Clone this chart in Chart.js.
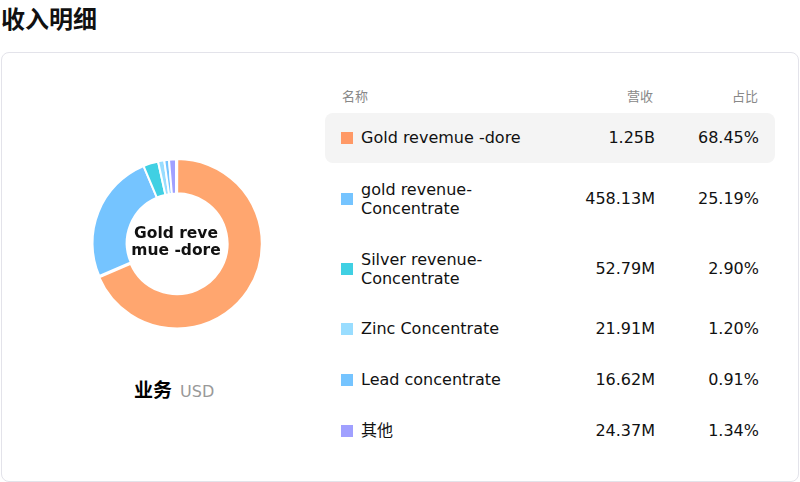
<!DOCTYPE html>
<html><head><meta charset="utf-8">
<script src="https://cdn.jsdelivr.net/npm/chart.js@4"></script>
<style>
body{margin:0;width:800px;height:482px;background:#fff;font-family:"DejaVu Sans","Noto Sans CJK SC",sans-serif;position:relative;overflow:hidden}
#title{position:absolute;left:1px;top:0px;font-size:24px;font-weight:bold;color:#111;font-family:"Noto Sans CJK SC",sans-serif}
#card{position:absolute;left:1px;top:52px;width:796px;height:428px;border:1px solid #e3e3ea;border-radius:8px}
#cw{position:absolute;left:76px;top:143px;width:200px;height:200px}
#center{position:absolute;left:116px;top:225px;width:120px;text-align:center;font-weight:bold;font-size:15.5px;line-height:17px;color:#111}
#unit{position:absolute;left:134px;top:375px;font-size:19px;font-weight:bold;font-family:"Noto Sans CJK SC",sans-serif}
#unit span{font-weight:normal;font-size:16px;color:#999;font-family:"DejaVu Sans";margin-left:8px}
.hdr{position:absolute;top:86px;font-size:13px;color:#888;font-family:"Noto Sans CJK SC",sans-serif}
.row{position:absolute;left:325px;width:450px;height:50px}
.row.hl{background:#f4f4f4;border-radius:8px}
.sw{position:absolute;left:16px;top:19px;width:12px;height:12px}
.nm{position:absolute;left:36px;font-size:16px;line-height:19px;color:#111;font-family:"DejaVu Sans","Noto Sans CJK SC"}
.v{position:absolute;right:120px;top:15px;font-size:16px;color:#111;font-family:"DejaVu Sans"}
.p{position:absolute;right:16px;top:15px;font-size:16px;color:#111;font-family:"DejaVu Sans"}
</style></head><body>
<div id="title">收入明细</div>
<div id="card"></div>
<div id="cw"><canvas id="c" width="200" height="200"></canvas></div>
<div id="center">Gold reve<br>mue -dore</div>
<div id="unit">业务<span>USD</span></div>
<div class="hdr" style="left:342px">名称</div>
<div class="hdr" style="left:627px">营收</div>
<div class="hdr" style="left:732px">占比</div>
<div id="rows"></div>
<script>
const categories=["Gold revemue -dore","gold revenue-\nConcentrate","Silver revenue-\nConcentrate","Zinc Concentrate","Lead concentrate","其他"];
const values=[1250,458.13,52.79,21.91,16.62,24.37];
const valueLabels=["1.25B","458.13M","52.79M","21.91M","16.62M","24.37M"];
const percents=["68.45%","25.19%","2.90%","1.20%","0.91%","1.34%"];
const colors=["#FFA66F","#75C4FF","#40D0E3","#99DDFF","#75C4FF","#A0A0FF"];
const swatch=["#FF9966","#75C4FF","#40D0E3","#99DDFF","#75C4FF","#A0A0FF"];
const tops=[113,174,244,304,355,406];
const rows=document.getElementById('rows');
categories.forEach((c,i)=>{
  const d=document.createElement('div');d.className='row'+(i==0?' hl':'');d.style.top=tops[i]+'px';
  const two=c.includes('\n');
  d.innerHTML=`<div class="sw" style="background:${swatch[i]}"></div><div class="nm" style="top:${two?6:15}px">${c.replace('\n','<br>')}</div><div class="v">${valueLabels[i]}</div><div class="p">${percents[i]}</div>`;
  rows.appendChild(d);
});
new Chart(document.getElementById('c'),{type:'doughnut',
 data:{labels:categories,datasets:[{data:values,backgroundColor:colors,borderColor:'#fff',borderWidth:2,offset:[5,0,0,0,0,0]}]},
 options:{responsive:false,animation:false,cutout:'59%',layout:{padding:13},plugins:{legend:{display:false},tooltip:{enabled:false}}}});
</script>
</body></html>
